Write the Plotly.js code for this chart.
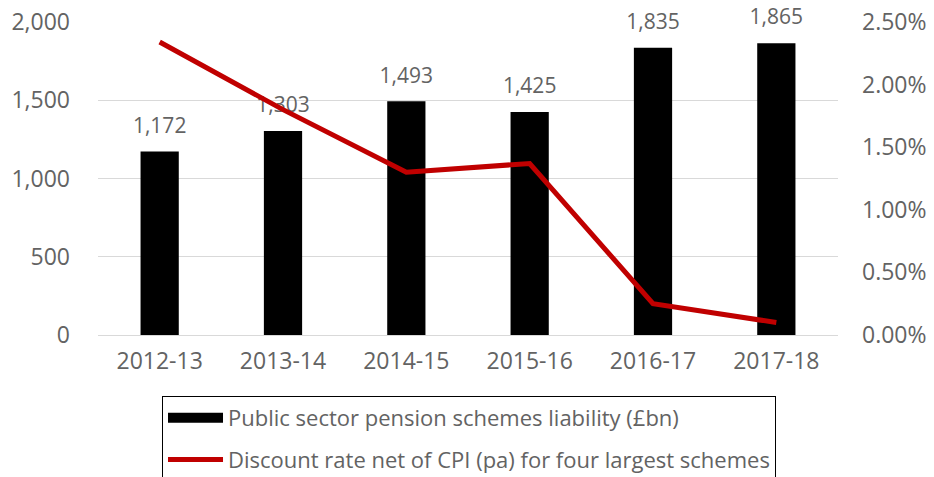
<!DOCTYPE html>
<html><head><meta charset="utf-8">
<script src="https://cdn.plot.ly/plotly-3.0.1.min.js"></script>
<style>body{margin:0;background:#fff}#c{width:934px;height:477px}</style>
</head><body><div id="c"></div>
<script>
const years = ["2012-13","2013-14","2014-15","2015-16","2016-17","2017-18"];
const liability = [1172,1303,1493,1425,1835,1865];
const liabilityLabels = ["1,172","1,303","1,493","1,425","1,835","1,865"];
const discountRate = [0.0234,0.0180,0.0130,0.0137,0.0025,0.0010];
const leftTicks = [0,500,1000,1500,2000];
const leftTickText = ["0","500","1,000","1,500","2,000"];
const rightTicks = [0,0.005,0.01,0.015,0.02,0.025];
const rightTickText = ["0.00%","0.50%","1.00%","1.50%","2.00%","2.50%"];
const barName = 'Public sector pension schemes liability (£bn)';
const lineName = 'Discount rate net of CPI (pa) for four largest schemes';

const grey = '#636363';
const fam = 'Open Sans, Noto Sans, sans-serif';
const tickFont = {family:fam, size:23, color:grey};

const traces = [
 {type:'bar', x:years, y:liability, name:barName, showlegend:false,
  marker:{color:'#000000'}, hoverinfo:'skip'},
 {type:'scatter', mode:'markers+text', x:years, y:liability, text:liabilityLabels,
  textposition:'top center', textfont:{family:fam,size:21,color:grey},
  marker:{size:20,color:'rgba(0,0,0,0)'}, showlegend:false, cliponaxis:false, hoverinfo:'skip'},
 {type:'scatter', mode:'lines', x:[null], y:[null], name:barName, legendgroup:'a',
  line:{color:'#000000', width:13}, hoverinfo:'skip'},
 {type:'scatter', mode:'lines', x:years, y:discountRate, yaxis:'y2',
  name:lineName, legendgroup:'b',
  line:{color:'#C00000', width:5}, cliponaxis:false}
];

const layout = {
 width:934, height:477,
 margin:{l:98, r:96, t:22, b:142, autoexpand:false},
 paper_bgcolor:'#fff', plot_bgcolor:'#fff',
 font:tickFont,
 bargap:0.69,
 showlegend:true,
 xaxis:{type:'category', showgrid:false, zeroline:false, showline:false,
        ticks:'', ticklabelstandoff:10, tickfont:tickFont},
 yaxis:{range:[0,2000], tickvals:leftTicks, ticktext:leftTickText, showgrid:true,
        gridcolor:'#d9d9d9', gridwidth:1, zeroline:true, zerolinecolor:'#d9d9d9',
        zerolinewidth:1, showline:false, ticks:'', ticklabelstandoff:27, tickfont:tickFont},
 yaxis2:{range:[0,0.025], overlaying:'y', side:'right', tickvals:rightTicks,
         ticktext:rightTickText, showgrid:false, zeroline:false, showline:false,
         ticks:'', ticklabelstandoff:23, tickfont:tickFont},
 legend:{orientation:'v', x:0.0865, xanchor:'left', y:-0.195, yanchor:'top',
         bordercolor:'#000', borderwidth:1, bgcolor:'#fff', itemwidth:55,
         font:{family:fam, size:22, color:grey}, tracegroupgap:10, traceorder:'grouped'}
};
Plotly.newPlot('c', traces, layout, {displayModeBar:false, staticPlot:true});
</script></body></html>
